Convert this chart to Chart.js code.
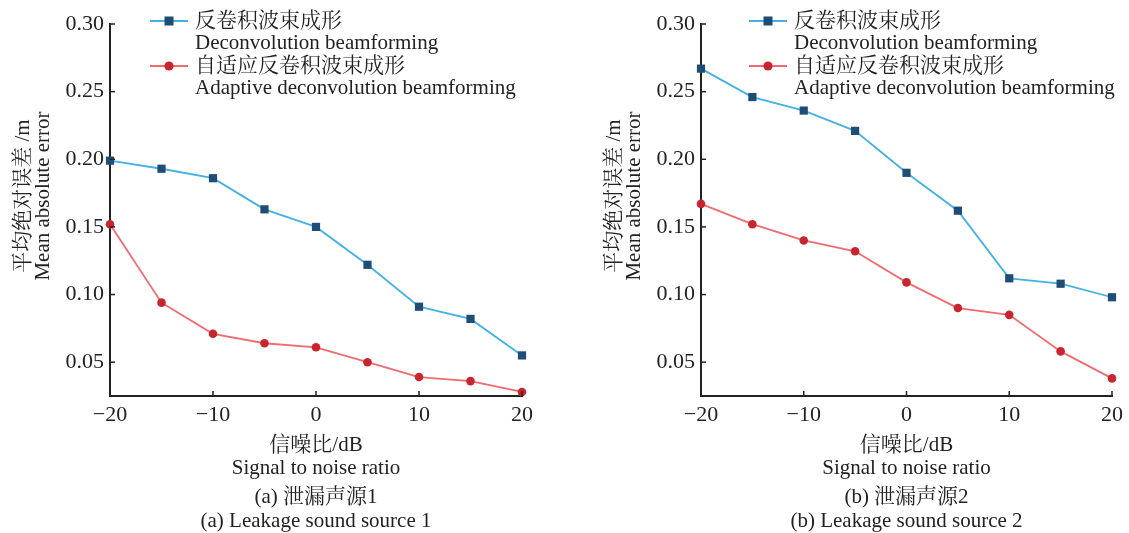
<!DOCTYPE html>
<html>
<head>
<meta charset="utf-8">
<script src="https://cdn.jsdelivr.net/npm/chart.js@4.4.1/dist/chart.umd.min.js"></script>
<style>
html, body { margin: 0; padding: 0; background: #fff; }
#wrap { position: relative; width: 1129px; height: 533px; overflow: hidden; }
canvas { position: absolute; top: 0; }
</style>
</head>
<body>
<div id="wrap">
  <canvas id="c1" width="590" height="533" style="left:0"></canvas>
  <canvas id="c2" width="538" height="533" style="left:591px"></canvas>
</div>
<script>
// signal to noise ratio, dB
const snr = [-20, -15, -10, -5, 0, 5, 10, 15, 20];

// (a) leakage source 1
const deconv1 = [0.199, 0.193, 0.186, 0.163, 0.150, 0.122, 0.091, 0.082, 0.055];
const adaptive1 = [0.152, 0.094, 0.071, 0.064, 0.061, 0.050, 0.039, 0.036, 0.028];

// (b) leakage source 2
const deconv2 = [0.267, 0.246, 0.236, 0.221, 0.190, 0.162, 0.112, 0.108, 0.098];
const adaptive2 = [0.167, 0.152, 0.140, 0.132, 0.109, 0.090, 0.085, 0.058, 0.038];

const xTicks = [-20, -10, 0, 10, 20];
const yTicks = [0.05, 0.10, 0.15, 0.20, 0.25, 0.30];

const legendDeconv = ['反卷积波束成形', 'Deconvolution beamforming'];
const legendAdaptive = ['自适应反卷积波束成形', 'Adaptive deconvolution beamforming'];
const yTitle = ['平均绝对误差 /m', 'Mean absolute error'];
const xTitle = ['信噪比/dB', 'Signal to noise ratio'];
const caption1 = ['(a) 泄漏声源1', '(a) Leakage sound source 1'];
const caption2 = ['(b) 泄漏声源2', '(b) Leakage sound source 2'];

const FONT = '"Liberation Serif", "Noto Serif CJK SC", "Noto Sans CJK SC", serif';
const INK = '#222';

const toPoints = ys => ys.map((y, i) => ({ x: snr[i], y: y }));

// legend drawn over the plot, two text lines per entry
const legendPlugin = {
  id: 'twoLineLegend',
  afterDraw(chart, args, opts) {
    const ctx = chart.ctx;
    ctx.save();
    chart.data.datasets.forEach((ds, i) => {
      const y = opts.y + i * 45;
      const x0 = opts.x;
      ctx.strokeStyle = ds.borderColor;
      ctx.lineWidth = 1.8;
      ctx.beginPath();
      ctx.moveTo(x0, y);
      ctx.lineTo(x0 + 38, y);
      ctx.stroke();
      ctx.fillStyle = ds.pointBackgroundColor;
      if (ds.pointStyle === 'rect') {
        ctx.fillRect(x0 + 19 - 4.5, y - 4.5, 9, 9);
      } else {
        ctx.beginPath();
        ctx.arc(x0 + 19, y, 4.6, 0, Math.PI * 2);
        ctx.fill();
      }
      ctx.fillStyle = INK;
      ctx.font = '21px ' + FONT;
      ctx.textBaseline = 'middle';
      ctx.fillText(ds.legendText[0], x0 + opts.gap, y);
      ctx.fillText(ds.legendText[1], x0 + opts.gap, y + 22);
    });
    ctx.restore();
  }
};

// both axes carry short ticks that point into the plot
const innerTicks = {
  id: 'innerTicks',
  afterDraw(chart) {
    const xs = chart.scales.x;
    const ys = chart.scales.y;
    const ctx = chart.ctx;
    const a = chart.chartArea;
    ctx.save();
    ctx.strokeStyle = INK;
    ctx.lineWidth = 1.5;
    xs.ticks.forEach(t => {
      const px = xs.getPixelForValue(t.value);
      ctx.beginPath();
      ctx.moveTo(px, a.bottom);
      ctx.lineTo(px, a.bottom - 5);
      ctx.stroke();
    });
    ys.ticks.forEach(t => {
      const py = ys.getPixelForValue(t.value);
      ctx.beginPath();
      ctx.moveTo(a.left, py);
      ctx.lineTo(a.left + 5, py);
      ctx.stroke();
    });
    ctx.restore();
  }
};

// rotated two-line y title and the sub-figure caption
const textPlugin = {
  id: 'extraText',
  afterDraw(chart, args, opts) {
    const ctx = chart.ctx;
    const cx = (chart.chartArea.left + chart.chartArea.right) / 2;
    ctx.save();
    ctx.fillStyle = INK;
    ctx.font = '21px ' + FONT;
    ctx.textAlign = 'center';
    ctx.textBaseline = 'middle';
    ctx.fillText(opts.caption[0], cx, 497);
    ctx.fillText(opts.caption[1], cx, 521);
    ctx.save();
    ctx.translate(0, 196);
    ctx.rotate(-Math.PI / 2);
    ctx.fillText(yTitle[0], 0, 23);
    ctx.fillText(yTitle[1], 0, 43);
    ctx.restore();
    ctx.restore();
  }
};

function makeChart(id, deconv, adaptive, caption, padRight, legendX) {
  return new Chart(document.getElementById(id), {
    type: 'line',
    data: {
      datasets: [
        {
          data: toPoints(deconv),
          legendText: legendDeconv,
          borderColor: '#45b0e5',
          borderWidth: 1.8,
          pointStyle: 'rect',
          pointRadius: 5.8,
          pointBackgroundColor: '#1f4d75',
          pointBorderWidth: 0,
          clip: false
        },
        {
          data: toPoints(adaptive),
          legendText: legendAdaptive,
          borderColor: '#f06b70',
          borderWidth: 1.8,
          pointStyle: 'circle',
          pointRadius: 4.3,
          pointBackgroundColor: '#c7262f',
          pointBorderWidth: 0,
          clip: false
        }
      ]
    },
    options: {
      responsive: false,
      animation: false,
      layout: { padding: { top: 24, right: padRight, bottom: 53, left: 0 } },
      plugins: {
        legend: { display: false },
        tooltip: { enabled: false },
        twoLineLegend: { x: legendX, y: 21, gap: 45 },
        extraText: { caption: caption }
      },
      scales: {
        x: {
          type: 'linear',
          min: -20,
          max: 20,
          afterBuildTicks: s => { s.ticks = xTicks.map(v => ({ value: v })); },
          afterFit: s => { s.height = 84; },
          ticks: {
            color: INK,
            font: { family: FONT, size: 22 },
            padding: 6,
            maxRotation: 0,
            callback: v => v < 0 ? '\u2212' + Math.abs(v) : String(v)
          },
          grid: { display: false, drawTicks: false },
          border: { display: true, color: INK, width: 2 },
          title: {
            display: true,
            text: xTitle,
            color: INK,
            font: { family: FONT, size: 21, lineHeight: 1.08 },
            padding: { top: 10, bottom: 0 }
          }
        },
        y: {
          min: 0.025,
          max: 0.30,
          afterBuildTicks: s => { s.ticks = yTicks.map(v => ({ value: v })); },
          afterFit: s => { s.width = 110; },
          ticks: {
            color: INK,
            font: { family: FONT, size: 22 },
            padding: 6,
            callback: v => v.toFixed(2)
          },
          grid: { display: false, drawTicks: false },
          border: { display: true, color: INK, width: 2 }
        }
      }
    },
    plugins: [legendPlugin, innerTicks, textPlugin]
  });
}

makeChart('c1', deconv1, adaptive1, caption1, 68, 150);
makeChart('c2', deconv2, adaptive2, caption2, 17, 158);
</script>
</body>
</html>
